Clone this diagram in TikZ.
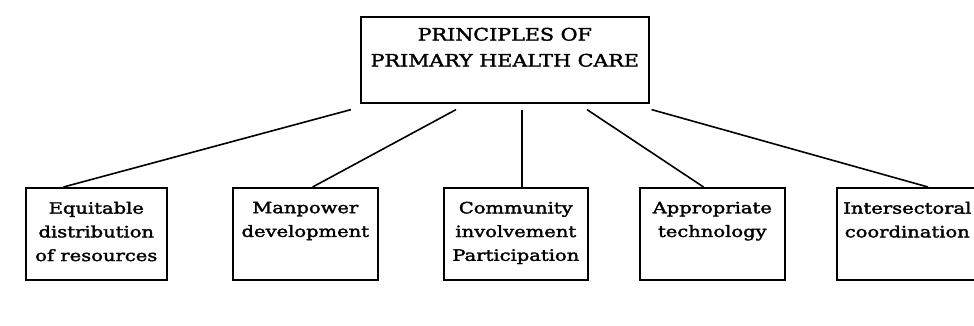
\documentclass[tikz,border=0pt]{standalone}
\usepackage{fontspec}
\setmainfont{DejaVu Serif}
\newfontfamily\topfont[FakeStretch=1.2,FakeBold=2]{DejaVu Serif}
\newfontfamily\subfont[FakeStretch=1.25,FakeBold=2]{DejaVu Serif}
\usetikzlibrary{calc}
\tikzset{
  box/.style={draw=black, line width=1.6pt, inner sep=0pt, fill=white},
  conn/.style={draw=black, line width=1.6pt},
}
\newcommand{\topbox}[1]{\begin{minipage}[t][86pt]{288pt}\centering\vspace{11pt}\topfont\fontsize{17.2}{26}\selectfont #1\end{minipage}}
\newcommand{\subbox}[2]{\begin{minipage}[t][92pt]{#1pt}\centering\vspace{14pt}\subfont\fontsize{15.6}{23.7}\selectfont #2\end{minipage}}
\begin{document}
\begin{tikzpicture}[x=1pt,y=-1pt]
\useasboundingbox (0,0) rectangle (974,325);
\node[box, anchor=north west] (top) at (360,16) {\topbox{PRINCIPLES OF\\PRIMARY HEALTH CARE}};
\node[box, anchor=north west] (b1) at (25,187) {\subbox{141}{Equitable\\distribution\\of resources}};
\node[box, anchor=north west] (b2) at (232,187) {\subbox{145}{Manpower\\development}};
\node[box, anchor=north west] (b3) at (443,187) {\subbox{144}{Community\\involvement\\Participation}};
\node[box, anchor=north west] (b4) at (639,187) {\subbox{145}{Appropriate\\technology}};
\node[box, anchor=north west] (b5) at (836,187) {\subbox{141}{Intersectoral\\coordination}};
\coordinate (s1) at ($(top.south west)+(-9,6)$);
\coordinate (s2) at ($(top.south west)+(96,6)$);
\coordinate (s3) at ($(top.south west)+(162,6)$);
\coordinate (s4) at ($(top.south west)+(227,6)$);
\coordinate (s5) at ($(top.south east)+(2,6)$);
\draw[conn] (s1) -- ($(b1.north west)!0.27!(b1.north east)$);
\draw[conn] (s2) -- ($(b2.north west)!0.55!(b2.north east)$);
\draw[conn] (s3) -- (s3 |- b3.north);
\draw[conn] (s4) -- ($(b4.north west)!0.44!(b4.north east)$);
\draw[conn] (s5) -- ($(b5.north west)!0.645!(b5.north east)$);
\end{tikzpicture}
\end{document}
